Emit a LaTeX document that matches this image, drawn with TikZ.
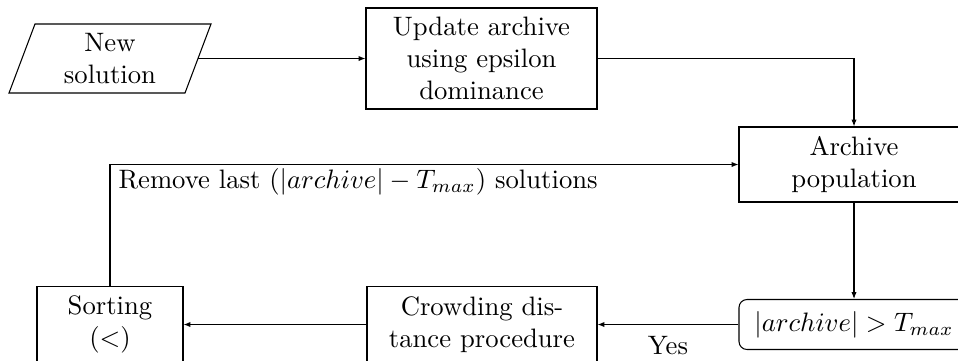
\documentclass[tikz,border=0pt]{standalone}
\usetikzlibrary{arrows.meta}
\begin{document}
\begin{tikzpicture}[x=0.375pt,y=-0.375pt,line width=0.4pt,
  box/.style={draw, rectangle, inner sep=0pt, align=center},
  arr/.style={-{Latex[length=2.6pt,width=2pt]}}]
\useasboundingbox (0,0) rectangle (958,361);
\clip (0,0) rectangle (958,361);
% input parallelogram
\node[align=center, inner sep=0pt] (ns) at (110,58.5) {New\\solution};
\draw (9,93) -- (35,24) -- (211,24) -- (185,93) -- cycle;
\coordinate (nsE) at (198,58.5);
% boxes
\node[box, minimum width=231*0.375pt, minimum height=101*0.375pt] (upd) at (481.5,58.5) {Update archive\\using epsilon\\dominance};
\node[box, minimum width=230*0.375pt, minimum height=75*0.375pt] (arch) at (854,164.5) {Archive\\population};
\node[box, rounded corners=3pt, minimum width=230*0.375pt, minimum height=50*0.375pt] (dec) at (854,324.5) {$|archive| > T_{max}$};
\node[box, minimum width=230*0.375pt, minimum height=76*0.375pt] (crowd) at (482,324.5) {Crowding dis-\\tance procedure};
\node[box, minimum width=146*0.375pt, minimum height=76*0.375pt] (sort) at (110,324.5) {Sorting\\$(<)$};
% connectors
\draw[arr] (nsE) -- (upd.west);
\draw[arr] (upd.east) -| (arch.north);
\draw[arr] (arch.south) -- (dec.north);
\draw[arr] (dec.west) -- node[below=1pt] (yes) {Yes} (crowd.east);
\draw[arr] (crowd.west) -- (sort.east);
\draw[arr] (sort.north) |- (arch.west);
\node[anchor=base west, inner sep=0pt] (rm) at (118,188) {Remove last $(|archive| - T_{max})$ solutions};
\end{tikzpicture}
\end{document}
